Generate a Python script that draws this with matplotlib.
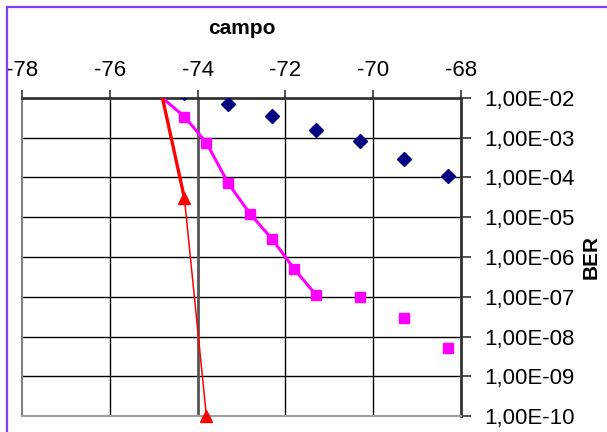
import numpy as np
import matplotlib
matplotlib.use('Agg')
import matplotlib.pyplot as plt
from matplotlib.patches import Rectangle

plt.rcParams['font.family'] = ['Liberation Sans', 'DejaVu Sans']

# dati
blue_x = [-74.3, -73.3, -72.3, -71.3, -70.3, -69.3, -68.3]
blue_y = [1.3e-2, 7.1e-3, 3.5e-3, 1.6e-3, 8.4e-4, 3.0e-4, 1.1e-4]

mag_x = [-74.8, -74.3, -73.8, -73.3, -72.8, -72.3, -71.8, -71.3, -70.3, -69.3, -68.3]
mag_y = [1e-2, 3.4e-3, 7.5e-4, 7.1e-5, 1.2e-5, 2.8e-6, 5.0e-7, 1.1e-7, 1.0e-7, 2.9e-8, 5.0e-9]
mag_line_n = 8  # punti collegati dalla linea

red_x = [-74.8, -74.3, -73.8]
red_y = [1e-2, 3.0e-5, 1e-10]

x_ticks = [-78, -76, -74, -72, -70, -68]
y_ticks = [10.0 ** -k for k in range(2, 11)]
y_labels = ['1,00E-%02d' % k for k in range(2, 11)]

fig = plt.figure(figsize=(6.07, 4.32), dpi=100)
W, H = 607, 432
ax = fig.add_axes([22 / W, 1 - 416 / H, (461 - 22) / W, (416 - 98) / H])

# bordo viola esterno
fig.patches.append(Rectangle((7 / W, -0.2), 1.2, 1 - 7 / H + 0.2, transform=fig.transFigure,
                             fill=False, edgecolor='#7f3fff', linewidth=1.6))

ax.set_xlim(-78, -68)
ax.set_yscale('log')
ax.set_ylim(1e-10, 1e-2)

# griglia
for yt in y_ticks[1:-1]:
    ax.axhline(yt, color='black', lw=1.0, zorder=1)
for xt in [-76, -72, -70]:
    ax.axvline(xt, color='black', lw=1.0, zorder=1)
ax.axvline(-74, color='#555555', lw=2.0, zorder=1)

# serie
ax.plot(blue_x, blue_y, ls='none', marker='D', ms=7.5, color='#000080', zorder=3)

ax.plot(mag_x[:mag_line_n], mag_y[:mag_line_n], color='#ff00ff', lw=2.2, zorder=3)
ax.plot(mag_x[1:], mag_y[1:], ls='none', marker='s', ms=6.5, color='#ff00ff',
        zorder=4, clip_on=False)

ax.plot(red_x[:2], red_y[:2], color='#ff0000', lw=2.4, zorder=3)
ax.plot(red_x[1:], red_y[1:], color='#ff0000', lw=1.1, zorder=3)
ax.plot(red_x[1:], red_y[1:], ls='none', marker='^', ms=9, color='#ff0000',
        zorder=4, clip_on=False)

# assi
ax.xaxis.tick_top()
ax.xaxis.set_label_position('top')
ax.set_xticks(x_ticks)
ax.set_xticklabels([str(v) for v in x_ticks])
ax.set_xlabel('campo', fontsize=15, fontweight='bold', labelpad=19)

ax.yaxis.tick_right()
ax.yaxis.set_label_position('right')
ax.set_yticks(y_ticks)
ax.set_yticklabels(y_labels)
ax.yaxis.set_minor_locator(matplotlib.ticker.NullLocator())
ax.set_ylabel('BER', fontsize=15, fontweight='bold', labelpad=5)

ax.tick_params(axis='x', direction='out', length=6, width=1.2, color='#333333',
               labelsize=16, pad=6)
ax.tick_params(axis='y', direction='out', length=7, width=1.2, color='#333333',
               labelsize=16, pad=10)

ax.spines['top'].set_color('#333333')
ax.spines['top'].set_linewidth(2)
ax.spines['right'].set_color('#333333')
ax.spines['right'].set_linewidth(2)
ax.spines['left'].set_color('#808080')
ax.spines['left'].set_linewidth(1.5)
ax.spines['bottom'].set_color('#a0a0a0')
ax.spines['bottom'].set_linewidth(1.5)

fig.savefig('out.png', dpi=100)
